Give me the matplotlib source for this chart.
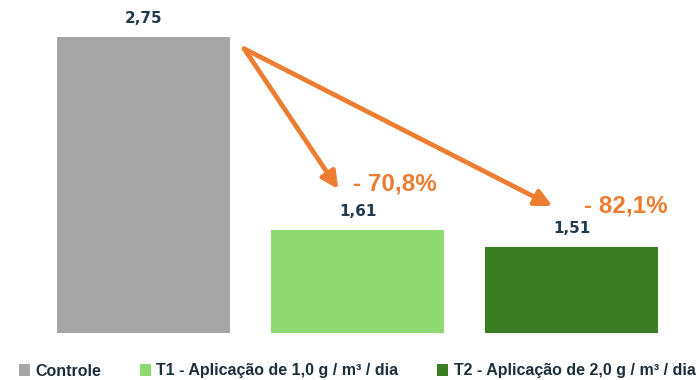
import matplotlib.pyplot as plt

plt.rcParams['font.family'] = ['Liberation Sans', 'DejaVu Sans']

categorias = ['Controle', 'T1 - Aplicação de 1,0 g / m³ / dia', 'T2 - Aplicação de 2,0 g / m³ / dia']
valores = [2.75, 1.61, 1.51]
rotulos = ['2,75', '1,61', '1,51']
reducao = ['- 70,8%', '- 82,1%']
cores = ['#a6a6a6', '#8fd973', '#3a7d22']

laranja = '#ed7d31'
texto = '#1e3a4c'
base = 1.0

fig = plt.figure(figsize=(7, 3.8), dpi=100)
ax = fig.add_axes([0, 47 / 380, 1, 330 / 380])

x = range(len(valores))
barras = ax.bar(x, [v - base for v in valores], bottom=base, width=0.81,
                color=cores, label=categorias)
ax.bar_label(barras, labels=rotulos, padding=8, fontsize=11, fontweight='bold',
             color=texto, family='DejaVu Sans')

# setas saindo do topo do controle
x0, y0 = 0.47, valores[0] - 0.07
for i, (v, r) in enumerate(zip(valores[1:], reducao), start=1):
    ax.annotate('', xy=(i - 0.09, v + 0.24), xytext=(x0, y0),
                arrowprops=dict(arrowstyle='-|>', color=laranja, lw=3.4,
                                mutation_scale=25, shrinkA=0, shrinkB=0))
    ax.text(i + (-0.02 if i == 1 else 0.06), v + (0.27 if i == 1 else 0.24), r,
            ha='left', va='center', fontsize=17.5, fontweight='bold', color=laranja)

ax.set_xlim(-0.6706, 2.600)
ax.set_ylim(base, 2.95)
ax.axis('off')

fig.legend(handles=list(barras), labels=categorias, loc='center',
           bbox_to_anchor=(0.51, 9 / 380), ncol=3, frameon=False,
           handlelength=0.7, handleheight=0.7, handletextpad=0.35, columnspacing=2.4,
           prop={'weight': 'bold', 'size': 11.5}, labelcolor='#1e2f3c')

fig.savefig('out.png', dpi=100)
